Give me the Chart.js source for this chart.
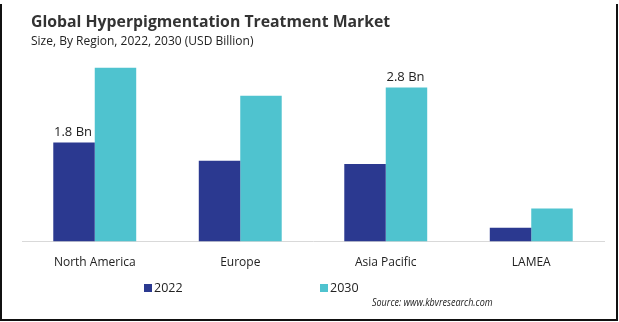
<!DOCTYPE html>
<html>
<head>
<meta charset="utf-8">
<script src="https://cdn.jsdelivr.net/npm/chart.js@4"></script>
<style>
html,body{margin:0;padding:0;background:#fff;}
#wrap{position:relative;width:619px;height:322px;}
</style>
</head>
<body>
<div id="wrap"><canvas id="c" width="619" height="322"></canvas></div>
<script>
const categories = ['North America', 'Europe', 'Asia Pacific', 'LAMEA'];
const seriesNames = ['2022', '2030'];
const values2022 = [1.8, 1.47, 1.41, 0.25];
const values2030 = [3.16, 2.65, 2.8, 0.6];
const labels2022 = ['1.8 Bn', '', '', ''];
const labels2030 = ['', '', '2.8 Bn', ''];
const titleText = 'Global Hyperpigmentation Treatment Market';
const subtitleText = 'Size, By Region, 2022, 2030 (USD Billion)';
const sourceText = 'Source: www.kbvresearch.com';

const FONT = "'Open Sans', 'Noto Sans', sans-serif";
const colors = ['#2b3990', '#4fc3cf'];

const decor = {
  id: 'decor',
  afterDraw(chart) {
    const ctx = chart.ctx;
    ctx.save();
    // frame (left, right, bottom)
    ctx.strokeStyle = '#111';
    ctx.lineWidth = 2;
    ctx.beginPath();
    ctx.moveTo(1, 4); ctx.lineTo(1, 320); ctx.lineTo(617, 320); ctx.lineTo(617, 4);
    ctx.stroke();
    // titles
    ctx.fillStyle = '#333';
    ctx.textBaseline = 'alphabetic';
    ctx.textAlign = 'left';
    ctx.font = "bold 15.8px " + FONT;
    ctx.fillText(titleText, 31, 27);
    ctx.fillStyle = '#222';
    ctx.font = "12px " + FONT;
    ctx.fillText(subtitleText, 31, 45);
    // data labels
    ctx.font = "13px " + FONT;
    ctx.fillStyle = '#222';
    ctx.textAlign = 'center';
    const lbls = [labels2022, labels2030];
    chart.data.datasets.forEach((ds, di) => {
      const meta = chart.getDatasetMeta(di);
      meta.data.forEach((bar, i) => {
        const t = lbls[di][i];
        if (t) ctx.fillText(t, bar.x - 1, bar.y - 7);
      });
    });
    // legend
    const legendX = [144, 320];
    ctx.font = "12.5px " + FONT;
    ctx.textAlign = 'left';
    ctx.textBaseline = 'middle';
    chart.data.datasets.forEach((ds, di) => {
      ctx.fillStyle = ds.backgroundColor;
      ctx.fillRect(legendX[di], 284, 8, 8);
      ctx.fillStyle = '#222';
      ctx.fillText(ds.label, legendX[di] + 10, 288);
    });
    // source (condensed italic)
    ctx.font = "italic 11px " + FONT;
    ctx.fillStyle = '#222';
    ctx.translate(372, 303);
    ctx.scale(0.82, 1);
    ctx.fillText(sourceText, 0, 0);
    ctx.restore();
  }
};

new Chart(document.getElementById('c'), {
  type: 'bar',
  data: {
    labels: categories,
    datasets: [
      { label: seriesNames[0], data: values2022, backgroundColor: colors[0] },
      { label: seriesNames[1], data: values2030, backgroundColor: colors[1] }
    ]
  },
  options: {
    responsive: false,
    animation: false,
    devicePixelRatio: 1,
    layout: { padding: { top: 49, left: 22, right: 15, bottom: 38 } },
    datasets: { bar: { categoryPercentage: 0.57, barPercentage: 1.0 } },
    plugins: { legend: { display: false }, tooltip: { enabled: false }, title: { display: false } },
    scales: {
      x: {
        grid: { display: false, drawTicks: false },
        border: { display: true, color: '#d9d9d9', width: 1 },
        ticks: { color: '#222', font: { family: FONT, size: 12 }, padding: 14 }
      },
      y: { display: false, min: 0, max: 3.5 }
    }
  },
  plugins: [decor]
});
</script>
</body>
</html>
